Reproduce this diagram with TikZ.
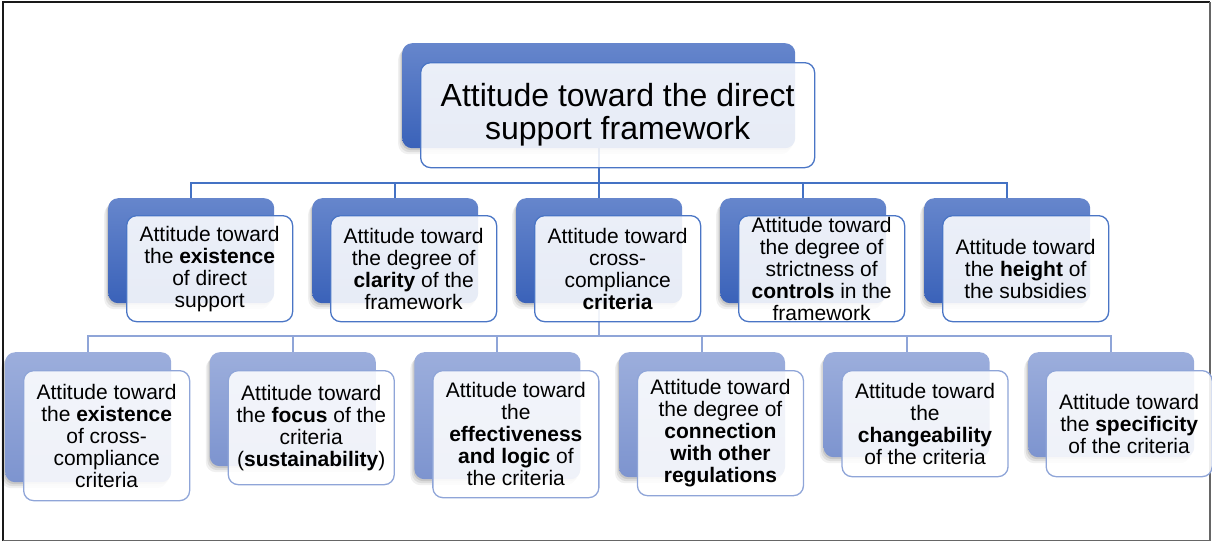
\documentclass[tikz,border=0pt]{standalone}
\usepackage{fontspec}
\setmainfont{Liberation Sans}
\usetikzlibrary{shadows}
\pgfdeclarelayer{bg}
\pgfsetlayers{bg,main}

\definecolor{linkdark}{HTML}{4472C4}
\definecolor{linklight}{HTML}{8FA5D8}
\definecolor{backtop}{HTML}{6686CC}
\definecolor{backbot}{HTML}{3A62B9}
\definecolor{paletop}{HTML}{9CAEDC}
\definecolor{palebot}{HTML}{7D94CF}
\definecolor{rimdark}{HTML}{4A75C5}
\definecolor{rimlight}{HTML}{8FA5D8}

\tikzset{
  softshade/.style={
    drop shadow={shadow xshift=-1pt, shadow yshift=-2pt, opacity=0.10, fill=black},
    drop shadow={shadow xshift=-2.5pt, shadow yshift=-4pt, opacity=0.08, fill=black},
    drop shadow={shadow xshift=-4pt, shadow yshift=-6pt, opacity=0.06, fill=black}},
  backbox/.style={rectangle, rounded corners=10pt, draw=none, inner sep=0pt,
    anchor=north west, minimum width=166pt, softshade},
  backhi/.style={backbox, top color=backtop, bottom color=backbot},
  backlo/.style={backbox, top color=paletop, bottom color=palebot},
  frontbox/.style={rectangle, rounded corners=10pt, inner sep=0pt, anchor=north west,
    minimum width=166pt, fill=white, fill opacity=0.88, text opacity=1,
    line width=1.3pt, align=center, text=black,
    font={\fontsize{21}{22}\selectfont}},
  fronthi/.style={frontbox, draw=rimdark},
  frontlo/.style={frontbox, draw=rimlight},
  linkhi/.style={draw=linkdark, line width=2pt},
  linklo/.style={draw=linklight, line width=2pt},
}

\begin{document}
\begin{tikzpicture}[x=1pt, y=-1pt]
\useasboundingbox (0,0) rectangle (1212,542);

% outer frame
\draw[line width=2pt, black!90] (3,541) -- (3,2) -- (1210,2);
\draw[line width=1.6pt, black!60] (1210,2) -- (1210,540.5) -- (3,540.5);

% top level
\node[backhi, minimum width=393pt, minimum height=105pt] (b1) at (402,43) {};
\node[fronthi, minimum width=394pt, minimum height=105pt,
      font={\fontsize{32}{33}\selectfont}] (f1) at (420,62)
  {Attitude toward the direct\\support framework};

% second level
\node[backhi, minimum height=105pt] (b21) at (108,198) {};
\node[backhi, minimum height=105pt] (b22) at (312,198) {};
\node[backhi, minimum height=105pt] (b23) at (516,198) {};
\node[backhi, minimum height=105pt] (b24) at (720,198) {};
\node[backhi, minimum height=105pt] (b25) at (924,198) {};

\node[fronthi, minimum height=106pt] (f21) at (126,215)
  {Attitude toward\\the \textbf{existence}\\of direct\\support};
\node[fronthi, minimum height=106pt] (f22) at (330,215)
  {Attitude toward\\the degree of\\\textbf{clarity} of the\\framework};
\node[fronthi, minimum height=106pt] (f23) at (534,215)
  {Attitude toward\\cross-\\compliance\\\textbf{criteria}};
\node[fronthi, minimum height=106pt] (f24) at (738,215)
  {Attitude toward\\the degree of\\strictness of\\\textbf{controls} in the\\framework};
\node[fronthi, minimum height=106pt] (f25) at (942,215)
  {Attitude toward\\the \textbf{height} of\\the subsidies};

% third level
\node[backlo, minimum height=130pt] (b31) at (5,352) {};
\node[backlo, minimum height=114pt] (b32) at (209.6,352) {};
\node[backlo, minimum height=127pt] (b33) at (414.2,352) {};
\node[backlo, minimum height=125pt] (b34) at (618.8,352) {};
\node[backlo, minimum height=105pt] (b35) at (823.4,352) {};
\node[backlo, minimum height=105pt] (b36) at (1028,352) {};

\node[frontlo, minimum height=130pt] (f31) at (23,370)
  {Attitude toward\\the \textbf{existence}\\of cross-\\compliance\\criteria};
\node[frontlo, minimum height=114pt] (f32) at (227.6,370)
  {Attitude toward\\the \textbf{focus} of the\\criteria\\(\textbf{sustainability})};
\node[frontlo, minimum height=127pt] (f33) at (432.2,370)
  {Attitude toward\\the\\\textbf{effectiveness}\\\textbf{and logic} of\\the criteria};
\node[frontlo, minimum height=125pt] (f34) at (636.8,370)
  {Attitude toward\\the degree of\\\textbf{connection}\\\textbf{with other}\\\textbf{regulations}};
\node[frontlo, minimum height=106pt] (f35) at (841.4,370)
  {Attitude toward\\the\\\textbf{changeability}\\of the criteria};
\node[frontlo, minimum height=106pt] (f36) at (1045.5,370)
  {Attitude toward\\the \textbf{specificity}\\of the criteria};

% connectors, kept behind the boxes
\begin{pgfonlayer}{bg}
  \draw[linkhi] (b1.south) -- ++(0,35) coordinate (bus1);
  \foreach \c in {b21,b22,b23,b24,b25}
    \draw[linkhi] (bus1) -| (\c.north);
  \draw[linklo] (b23.south) -- ++(0,33) coordinate (bus2);
  \foreach \c in {b31,b32,b33,b34,b35,b36}
    \draw[linklo] (bus2) -| (\c.north);
\end{pgfonlayer}
\end{tikzpicture}
\end{document}
